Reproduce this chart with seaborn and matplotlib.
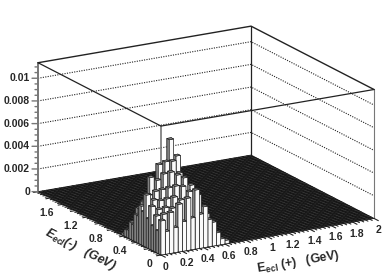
import numpy as np
import matplotlib
matplotlib.use("Agg")
import matplotlib.pyplot as plt
import seaborn as sns
from mpl_toolkits.mplot3d import proj3d

# Bin heights in units of 0.001, one list per E_ecl(-) bin; index = E_ecl(+) bin
Z_J00 = [3.0, 2.0, 3.6, 2.2, 4.2, 2.6, 4.6, 2.8, 5.2, 3.0, 3.6, 2.4, 2.1, 1.1, .5, .3]
Z_J01 = [2.0, 3.4, 2.2, 3.8, 2.6, 4.4, 3.0, 5.0, 3.4, 4.6, 2.8, 2.8, 1.4, 1.0, .4]
Z_J02 = [3.2, 2.2, 3.8, 2.6, 4.6, 3.0, 5.4, 3.6, 5.4, 3.0, 3.4, 1.8, 1.3, .4]
Z_J03 = [2.2, 3.6, 2.6, 4.4, 3.0, 5.4, 3.8, 6.0, 3.6, 4.2, 2.2, 1.6, .5]
Z_J04 = [3.8, 2.6, 4.2, 3.0, 5.2, 3.6, 6.2, 4.0, 5.0, 2.4, 1.9, .6]
Z_J05 = [2.6, 4.2, 3.0, 5.0, 3.4, 6.4, 4.4, 6.2, 3.0, 2.4, .8]
Z_J06 = [4.6, 3.0, 4.8, 3.4, 6.2, 4.4, 7.2, 7.6, 3.6, 1.8]
Z_J07 = [3.0, 4.4, 3.4, 5.6, 4.2, 7.1, 9.0, 4.4, 2.6]
Z_J08 = [3.4, 3.0, 5.8, 3.8, 6.8, 4.8, 4.4, 2.0]
Z_J09 = [2.4, 3.6, 3.2, 4.8, 4.0, 3.8, 1.6]
Z_J10 = [2.4, 2.8, 3.4, 3.4, 3.2, 1.6]
Z_J11 = [1.4, 2.8, 2.6, 2.8, 1.2]
Z_J12 = [1.5, 1.6, 2.2, 1.0]
Z_J13 = [.7, 1.4, .8]
Z_J14 = [.6, .5]
Z_J15 = [.2]
ROWS = [Z_J00, Z_J01, Z_J02, Z_J03, Z_J04, Z_J05, Z_J06, Z_J07, Z_J08, Z_J09,
        Z_J10, Z_J11, Z_J12, Z_J13, Z_J14, Z_J15]

X_TICKS = [0, 0.2, 0.4, 0.6, 0.8, 1, 1.2, 1.4, 1.6, 1.8, 2]
X_TICK_LABELS = ["0", "0.2", "0.4", "0.6", "0.8", "1", "1.2", "1.4", "1.6", "1.8", "2"]
Y_TICKS = [0, 0.4, 0.8, 1.2, 1.6]
Y_TICK_LABELS = ["0", "0.4", "0.8", "1.2", "1.6"]
Z_TICKS = [0, 0.002, 0.004, 0.006, 0.008, 0.01]
Z_TICK_LABELS = ["0", "0.002", "0.004", "0.006", "0.008", "0.01"]
N_BINS = 50
X_MAX, Y_MAX, Z_MAX = 2.0, 2.0, 0.01137

sns.set_theme(style="white", rc={"axes.grid": False})
plt.rcParams["font.family"] = ["Liberation Sans", "DejaVu Sans"]
plt.rcParams["font.weight"] = "bold"
plt.rcParams["mathtext.fontset"] = "custom"
plt.rcParams["mathtext.rm"] = "Liberation Sans:bold"
plt.rcParams["mathtext.it"] = "Liberation Sans:italic:bold"
plt.rcParams["mathtext.bf"] = "Liberation Sans:bold"

W, H = 382, 280
fig = plt.figure(figsize=(W / 100, H / 100), dpi=100)
ax = fig.add_axes([0.1, 0.1, 0.8, 0.8 * W / H], projection="3d",
                  proj_type="ortho", computed_zorder=False)
ax.view_init(elev=17.3, azim=-120)
ax.set_xlim(0, X_MAX); ax.set_ylim(0, Y_MAX); ax.set_zlim(0, Z_MAX)
ax.set_box_aspect((1, 1, 0.549))
ax.set_axis_off()
ax.patch.set_alpha(0)

# fit the axes box to the frame of the picture
def px(x, y, z):
    u, v, _ = proj3d.proj_transform(x, y, z, ax.get_proj())
    return ax.transData.transform((u, v))

def set_box(x0, y0, s):
    ax.set_position([x0 / W, y0 / H, s / W, s / H])
    ax.apply_aspect()

set_box(0, 0, 300)
span = px(X_MAX, 0, 0)[0] - px(0, Y_MAX, 0)[0]
s = 300 * (374 - 38) / span
set_box(0, 0, s)
f = px(0, 0, 0)
set_box(161 - f[0], (H - 255) - f[1], s)

LINE = "#222222"
GREY = "#777777"
edges = np.linspace(0, X_MAX, N_BINS + 1)
w = edges[1] - edges[0]

# back walls
for zv in Z_TICKS[1:]:
    ax.plot([0, X_MAX, X_MAX], [Y_MAX, Y_MAX, 0], [zv, zv, zv], color=LINE, lw=0.8,
            ls=(0, (1, 1.2)), zorder=1)
ax.plot([X_MAX, X_MAX], [Y_MAX, Y_MAX], [0, Z_MAX], color=LINE, lw=0.9, zorder=1)
ax.plot([X_MAX, X_MAX], [0, 0], [0, Z_MAX], color=GREY, lw=0.8, zorder=1)
ax.plot([0, 0], [Y_MAX, Y_MAX], [0, Z_MAX], color=GREY, lw=1.4, zorder=1)
ax.plot([0, 0], [0, 0], [0, Z_MAX], color=GREY, lw=1.2, zorder=1)
ax.plot([0, X_MAX, X_MAX], [Y_MAX, Y_MAX, 0], [Z_MAX] * 3, color=LINE, lw=1.0, zorder=1)
ax.plot([0, 0, X_MAX], [Y_MAX, 0, 0], [Z_MAX] * 3, color=LINE, lw=0.9, zorder=1)

# floor of empty bins
gx, gy = np.meshgrid(edges, edges)
ax.plot_surface(gx, gy, np.zeros_like(gx), rstride=1, cstride=1, color="#3c3c3c",
                shade=False, edgecolor="#141414", linewidth=0.6, zorder=2)

# bars, back to front
cells = [(i, j, v) for j, row in enumerate(ROWS) for i, v in enumerate(row)]
cells.sort(key=lambda c: -(c[0] + c[1]))
face_colors = ["#222222", "#8a8a8a", "#fafafa", "#fafafa", "#808080", "#808080"]
for n, (i, j, v) in enumerate(cells):
    ax.bar3d(edges[i], edges[j], 0, w, w, v * 1e-3, color=face_colors, shade=False,
             edgecolor="#1c1c1c", linewidth=0.42, zorder=3 + n)

TOP = 1000
# axis ticks
for k in range(0, 51):
    xv = k * 0.04
    L = 0.07 if k % 5 == 0 else 0.04
    ax.plot([xv, xv], [0, -L], [0, 0], color=LINE, lw=0.8, zorder=TOP)
    ax.plot([0, -L * 0.6], [xv, xv], [0, 0], color=LINE, lw=0.8, zorder=TOP)
for k in range(0, 23):
    zv = k * 0.0005
    a = 0.042 if k % 4 == 0 else 0.021
    ax.plot([0, -a], [Y_MAX, Y_MAX + 0.587 * a], [zv, zv], color=GREY, lw=1.0, zorder=TOP)

# tick labels, anchored on their projected data positions
FS = 7.5
def label(x, y, z, t, ha):
    p = px(x, y, z)
    fig.text(p[0] / W, p[1] / H, t, ha=ha, va="center", fontsize=FS)

for v, t in zip(X_TICKS, X_TICK_LABELS):
    label(v + 0.04, 0, -0.0011, t, "center")
for v, t in zip(Y_TICKS, Y_TICK_LABELS):
    label(-0.085, v, -0.00066, t, "right")
for v, t in zip(Z_TICKS, Z_TICK_LABELS):
    label(-0.056, Y_MAX + 0.033, v, t, "right")

# axis titles
fig.text(298 / W, 1 - 262 / H, r"$\mathrm{E}_{\mathrm{ecl}}$ (+)   (GeV)", fontsize=8.9,
         rotation=9.5, ha="center", va="center", rotation_mode="anchor")
fig.text(80 / W, 1 - 250 / H, r"$E_{ecl}$(-)   (GeV)", fontsize=8.9, style="italic",
         rotation=-27, ha="center", va="center", rotation_mode="anchor")

fig.savefig("out.png", dpi=100, facecolor="white")
